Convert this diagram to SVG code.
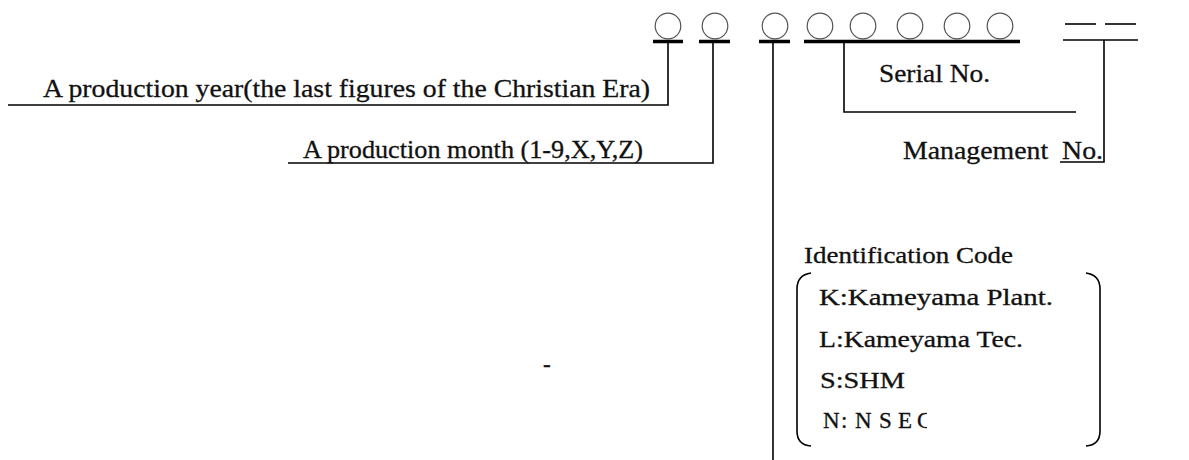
<svg xmlns="http://www.w3.org/2000/svg" width="1189" height="460" viewBox="0 0 1189 460">
<style>
.t{font-family:"Liberation Serif","Times New Roman",serif;font-size:25.5px;fill:#111;stroke:#111;stroke-width:0.3;white-space:pre}
.e{font-family:"Liberation Serif","Times New Roman",serif;font-size:23px;fill:#111;stroke:#111;stroke-width:0.3;white-space:pre}
.c{fill:none;stroke:#555;stroke-width:1.2}
.bar{stroke:#000;stroke-width:3.5;fill:none}
.ln{stroke:#000;stroke-width:1.6;fill:none}
</style>
<defs>
<clipPath id="clipN"><rect x="800" y="400" width="127" height="40"/></clipPath>
</defs>
<rect width="1189" height="460" fill="#fff"/>
<g id="digits">
<circle class="c" cx="668" cy="26" r="12.8"/>
<circle class="c" cx="715" cy="26" r="12.8"/>
<circle class="c" cx="775" cy="26" r="12.8"/>
<circle class="c" cx="820" cy="26" r="12.8"/>
<circle class="c" cx="863" cy="26" r="12.8"/>
<circle class="c" cx="910" cy="26" r="12.8"/>
<circle class="c" cx="957" cy="26" r="12.8"/>
<circle class="c" cx="1000" cy="26" r="12.8"/>
<line class="bar" x1="653" y1="41.5" x2="683" y2="41.5"/>
<line class="bar" x1="699" y1="41.5" x2="730" y2="41.5"/>
<line class="bar" x1="759" y1="41.5" x2="790" y2="41.5"/>
<line class="bar" x1="804" y1="41.5" x2="1020" y2="41.5"/>
<line class="ln" x1="1065" y1="24" x2="1096" y2="24"/>
<line class="ln" x1="1105" y1="24" x2="1136" y2="24"/>
<line class="ln" x1="1063" y1="40" x2="1138" y2="40"/>
</g>
<g id="connectors">
<polyline class="ln" points="668,42 668,105 8,105"/>
<polyline class="ln" points="713,42 713,163 288,163"/>
<line class="ln" x1="773" y1="42" x2="773" y2="460"/>
<polyline class="ln" points="844,42 844,112 1076,112"/>
<polyline class="ln" points="1104,40 1104,162 1060,162"/>
</g>
<g id="year"><text class="t" x="43" y="97" textLength="607" lengthAdjust="spacingAndGlyphs">A production year(the last figures of the Christian Era)</text></g>
<g id="month"><text class="t" x="303" y="158" textLength="340" lengthAdjust="spacingAndGlyphs">A production month (1-9,X,Y,Z)</text></g>
<g id="serial"><text class="t" x="879" y="82" textLength="111" lengthAdjust="spacingAndGlyphs">Serial No.</text></g>
<g id="management"><text class="t" x="903" y="159" textLength="200" lengthAdjust="spacingAndGlyphs">Management  No.</text></g>
<g id="identification">
<text class="e" x="804" y="263" textLength="209" lengthAdjust="spacingAndGlyphs">Identification Code</text>
<path class="ln" d="M811,273 Q797,275 797,289 L797,431 Q797,445 811,446"/>
<path class="ln" d="M1086,273 Q1100,275 1100,289 L1100,431 Q1100,445 1086,446"/>
<text class="e" x="819" y="305" textLength="234" lengthAdjust="spacingAndGlyphs">K:Kameyama Plant.</text>
<text class="e" x="819" y="347" textLength="204" lengthAdjust="spacingAndGlyphs">L:Kameyama Tec.</text>
<text class="e" x="820" y="388" textLength="85" lengthAdjust="spacingAndGlyphs">S:SHM</text>
<text class="e" x="823 841 855 879 898 917" y="428" clip-path="url(#clipN)">N:NSEC</text>
</g>
<g id="dash"><text class="e" x="543" y="372">-</text></g>
</svg>
